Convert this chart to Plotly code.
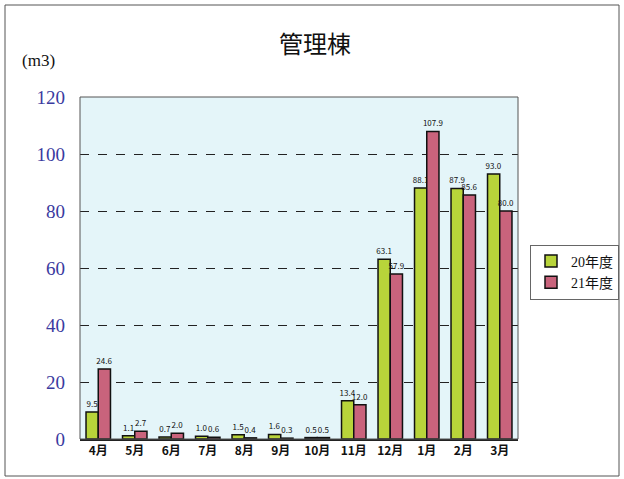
import plotly.graph_objects as go

months = ["4月", "5月", "6月", "7月", "8月", "9月", "10月", "11月", "12月", "1月", "2月", "3月"]
fy20 = [9.5, 1.1, 0.7, 1.0, 1.5, 1.6, 0.5, 13.4, 63.1, 88.1, 87.9, 93.0]
fy21 = [24.6, 2.7, 2.0, 0.6, 0.4, 0.3, 0.5, 12.0, 57.9, 107.9, 85.6, 80.0]
y_ticks = [0, 20, 40, 60, 80, 100, 120]

serif = "Liberation Serif, Noto Sans CJK JP, serif"
sans = "Noto Sans CJK JP, DejaVu Sans, sans-serif"

fig = go.Figure()
fig.add_trace(go.Bar(
    name="20年度", x=months, y=fy20,
    marker=dict(color="#b8d43a", line=dict(color="#111111", width=1.5)),
    texttemplate="%{y:.1f}", textposition="outside",
    textfont=dict(size=8, color="#111111", family=sans),
    cliponaxis=False,
))
fig.add_trace(go.Bar(
    name="21年度", x=months, y=fy21,
    marker=dict(color="#c9637c", line=dict(color="#111111", width=1.5)),
    texttemplate="%{y:.1f}", textposition="outside",
    textfont=dict(size=8, color="#111111", family=sans),
    cliponaxis=False,
))

L, R, T, B = 80, 518, 97, 439
W, H = 624, 479
pw, ph = R - L, B - T

def px(x):
    return (x - L) / pw

def py(y):
    return (B - y) / ph

fig.update_layout(
    width=W, height=H, autosize=False,
    margin=dict(l=L, r=W - R, t=T, b=H - B, pad=0, autoexpand=False),
    paper_bgcolor="white",
    plot_bgcolor="#e4f5f9",
    barmode="group",
    bargap=0.33,
    bargroupgap=0.0,
    uniformtext=dict(minsize=8, mode="show"),
    title=dict(text="管理棟", x=px(315), xref="paper", y=1 - 45 / H, yanchor="middle",
               font=dict(family=serif, size=24, color="#111111")),
    showlegend=True,
    legend=dict(x=px(530), y=py(272), xanchor="left", yanchor="middle",
                bgcolor="white", bordercolor="#666666", borderwidth=1,
                font=dict(family=serif, size=14, color="#111111"),
                itemwidth=30, tracegroupgap=2),
    xaxis=dict(
        showline=True, linecolor="#222222", linewidth=1.5, mirror=False,
        tickfont=dict(family=sans, size=12, color="#111111", weight="bold"),
        ticks="", showgrid=False, automargin=False,
    ),
    yaxis=dict(
        range=[0, 120], tickvals=y_ticks,
        showline=False,
        showgrid=True, gridcolor="#222222", griddash="dash", gridwidth=1,
        zeroline=False, automargin=False,
        tickfont=dict(family=serif, size=19, color="#3a3aa0"),
        ticks="", ticklabelstandoff=14,
    ),
    shapes=[
        dict(type="rect", xref="paper", yref="paper",
             x0=px(5), x1=px(619), y0=py(476), y1=py(5),
             line=dict(color="#555555", width=1), fillcolor="rgba(0,0,0,0)", layer="below"),
        dict(type="rect", xref="paper", yref="paper",
             x0=0, x1=1, y0=0, y1=1,
             line=dict(color="#555555", width=1), fillcolor="rgba(0,0,0,0)", layer="above"),
    ],
    annotations=[
        dict(text="(m3)", xref="paper", yref="paper", x=px(20), y=py(60),
             xanchor="left", yanchor="middle", showarrow=False,
             font=dict(family=serif, size=17, color="#111111")),
    ],
)

fig.write_html(
    "out.html",
    config={"displayModeBar": False},
    post_script="document.body.style.margin='0';document.body.style.overflow='hidden';",
)
